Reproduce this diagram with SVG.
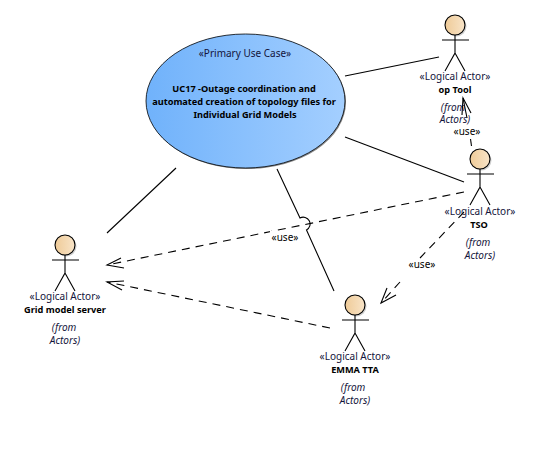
<svg xmlns="http://www.w3.org/2000/svg" width="545" height="452" viewBox="0 0 545 452">
<style>
text{font-family:"Noto Sans","Open Sans","Liberation Sans",sans-serif;font-size:10px;text-anchor:middle;fill:#000}
.st{fill:#14143c}
.b{font-weight:700;font-size:9.2px}
.i{font-style:italic;fill:#14143c}
.l{fill:none;stroke:#000;stroke-width:1.1}
.d{fill:none;stroke:#000;stroke-width:1.1;stroke-dasharray:8 6}
.a{fill:none;stroke:#000;stroke-width:1.1}
.h{fill:url(#hg);stroke:#000;stroke-width:1.1}
.sh{fill:#bbb;opacity:.7}
</style>
<defs>
<linearGradient id="ug"><stop offset="0" stop-color="#70b2fb"/><stop offset="1" stop-color="#a4cfff"/></linearGradient>
<linearGradient id="hg"><stop offset="0" stop-color="#efcb98"/><stop offset="1" stop-color="#f8e4c8"/></linearGradient>
<g id="fig">
<circle class="sh" cx="1.5" cy="1.5" r="10"/>
<circle class="h" r="10"/>
<path class="l" d="M-13 15H14M0 10V28L-10 46M0 28L10 46"/>
</g>
</defs>
<g id="connectors">
<path class="l" d="M345 76L439 57"/>
<path class="l" d="M345 137L464 182"/>
<path class="l" d="M176 168L107 233"/>
<path class="l" d="M277 169L300 218A6.500 6.500 0 0 1 306.500 230L334 291"/>
<path class="d" d="M464 192L107 265"/>
<path class="a" d="M121 258L107 265L124 268"/>
<path class="d" d="M330 328L107 282"/>
<path class="a" d="M124 281L107 282L122 290"/>
<path class="d" d="M464 212L420 258"/>
<path class="d" d="M400 282L381 303"/>
<path class="a" d="M387 288L381 303L396 295"/>
<path class="l" d="M463 98L467 118"/>
<path class="l" d="M470.500 139L471.500 146"/>
<path class="a" d="M462 115L463 98L471 113"/>
</g>
<g id="usecase">
<ellipse cx="246.500" cy="102" rx="99.500" ry="67" fill="#888"/>
<ellipse cx="245.500" cy="101" rx="99.500" ry="67" fill="url(#ug)" stroke="#000" stroke-width=".8"/>
<text class="st" x="245" y="57">«Primary Use Case»</text>
<text class="b" x="244" y="92">UC17 -Outage coordination and</text>
<text class="b" x="244" y="105">automated creation of topology files for</text>
<text class="b" x="245" y="118">Individual Grid Models</text>
</g>
<g id="actor-optool">
<use href="#fig" x="455" y="25"/>
<text class="st" x="455" y="80">«Logical Actor»</text>
<text class="b" x="455" y="93">op Tool</text>
<text class="i" x="453" y="111">(from</text>
<text class="i" x="455" y="123">Actors)</text>
</g>
<g id="actor-tso">
<use href="#fig" x="480" y="159"/>
<text class="st" x="480" y="215">«Logical Actor»</text>
<text class="b" x="479" y="228">TSO</text>
<text class="i" x="478" y="246">(from</text>
<text class="i" x="480" y="259">Actors)</text>
</g>
<g id="actor-grid">
<use href="#fig" x="65" y="245"/>
<text class="st" x="65" y="300">«Logical Actor»</text>
<text class="b" x="65" y="313">Grid model server</text>
<text class="i" x="64" y="331">(from</text>
<text class="i" x="65" y="344">Actors)</text>
</g>
<g id="actor-emma">
<use href="#fig" x="355" y="305"/>
<text class="st" x="355" y="360">«Logical Actor»</text>
<text class="b" x="355" y="373">EMMA TTA</text>
<text class="i" x="353" y="391">(from</text>
<text class="i" x="355" y="404">Actors)</text>
</g>
<g id="labels">
<text x="467" y="134.500">«use»</text>
<text x="422" y="268">«use»</text>
<rect x="270" y="231" width="30" height="12" fill="#fff"/>
<text x="285" y="241">«use»</text>
</g>
</svg>
